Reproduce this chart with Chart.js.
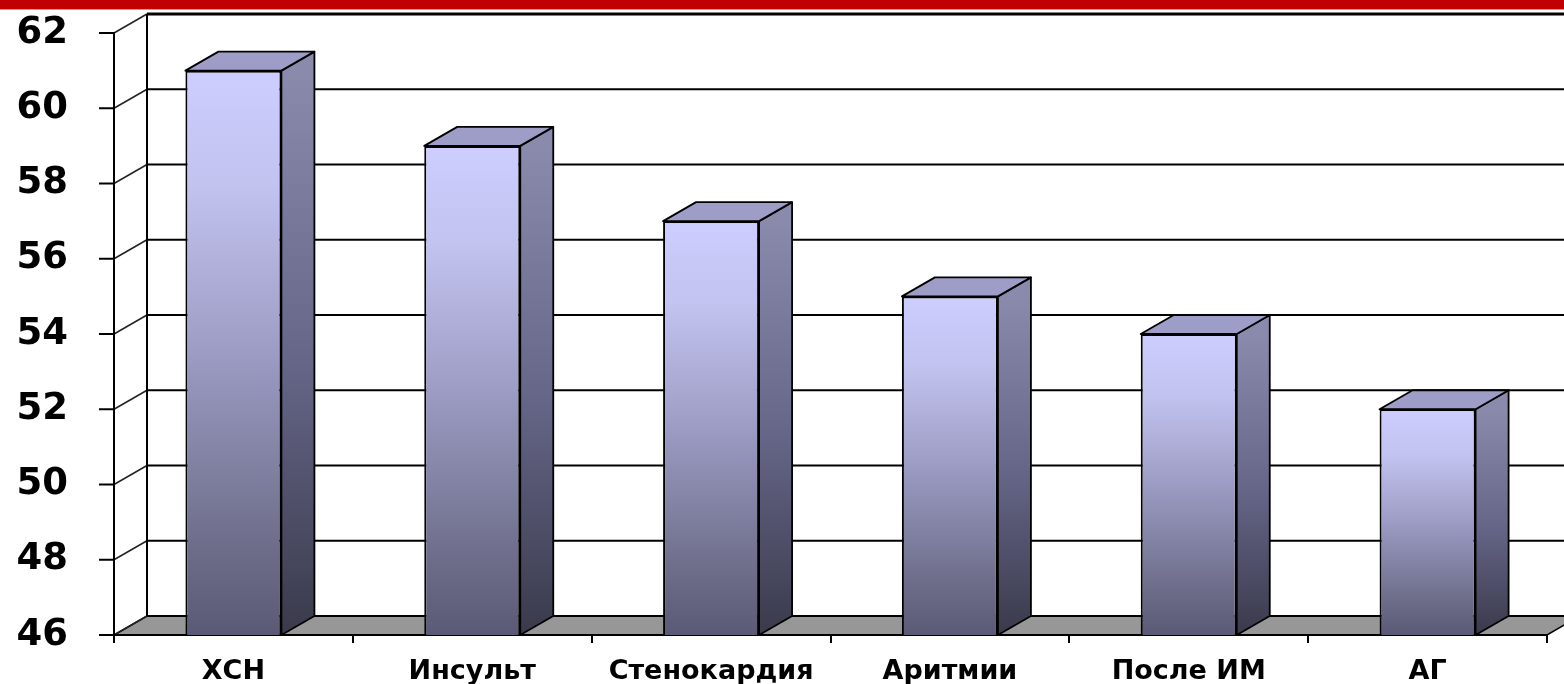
<!DOCTYPE html>
<html>
<head>
<meta charset="utf-8">
<script src="https://cdn.jsdelivr.net/npm/chart.js@4"></script>
<style>
  html, body { margin: 0; padding: 0; background: #fff; }
  #wrap { position: relative; width: 1564px; height: 684px; overflow: hidden; }
  #band { position: absolute; left: 0; top: 0; width: 1564px; height: 9px; background: #C00000; border-bottom: 1px solid #E89090; z-index: 2; }
  canvas { position: absolute; left: 0; top: 0; }
</style>
</head>
<body>
<div id="wrap">
  <div id="band"></div>
  <canvas id="c" width="1564" height="684"></canvas>
</div>
<script>
// ---- data ----
const categories = ['ХСН', 'Инсульт', 'Стенокардия', 'Аритмии', 'После ИМ', 'АГ'];
const values = [61, 59, 57, 55, 54, 52];
const yMin = 46;
const yMax = 62;
const yStep = 2;

// ---- styling ----
const DX = 33, DY = -19;
const Y_TICK_MARK = 15;

function frontGradient(ctx, yTop, yBot) {
  const g = ctx.createLinearGradient(0, yTop, 0, yBot);
  g.addColorStop(0, '#CDCDFF');
  g.addColorStop(0.2, '#C3C3F0');
  g.addColorStop(0.5, '#9C9CC4');
  g.addColorStop(0.8, '#737391');
  g.addColorStop(1, '#5A5A76');
  return g;
}
function sideGradient(ctx, yTop, yBot) {
  const g = ctx.createLinearGradient(0, yTop, 0, yBot);
  g.addColorStop(0, '#8A8AAC');
  g.addColorStop(0.5, '#67678A');
  g.addColorStop(1, '#3A3A4C');
  return g;
}

const threeD = {
  id: 'threeD',
  beforeDraw(chart) {
    const { ctx, chartArea, scales } = chart;
    const { left, right, bottom } = chartArea;
    const ys = scales.y;
    ctx.save();
    // floor
    ctx.beginPath();
    ctx.moveTo(left, bottom);
    ctx.lineTo(right, bottom);
    ctx.lineTo(right + DX, bottom + DY);
    ctx.lineTo(left + DX, bottom + DY);
    ctx.closePath();
    ctx.fillStyle = '#979797';
    ctx.fill();
    ctx.strokeStyle = '#000';
    ctx.lineWidth = 1.5;
    ctx.stroke();
    // back wall grid lines, diagonals, front tick marks
    ys.ticks.forEach((t) => {
      const py = ys.getPixelForValue(t.value);
      ctx.beginPath();
      ctx.moveTo(left + DX, py + DY);
      ctx.lineTo(right + DX + 40, py + DY);
      ctx.lineWidth = (t.value === yMax) ? 3 : 2.2;
      ctx.strokeStyle = '#000';
      ctx.stroke();
      ctx.beginPath();
      ctx.moveTo(left, py);
      ctx.lineTo(left + DX, py + DY);
      ctx.lineWidth = 1.5;
      ctx.strokeStyle = '#222';
      ctx.stroke();
      ctx.beginPath();
      ctx.moveTo(left - Y_TICK_MARK, py);
      ctx.lineTo(left, py);
      ctx.lineWidth = 2;
      ctx.strokeStyle = '#000';
      ctx.stroke();
    });
    // back wall left edge
    ctx.beginPath();
    ctx.moveTo(left + DX, ys.getPixelForValue(yMax) + DY);
    ctx.lineTo(left + DX, bottom + DY);
    ctx.lineWidth = 2;
    ctx.strokeStyle = '#000';
    ctx.stroke();
    ctx.restore();
  },
  afterDatasetsDraw(chart) {
    const { ctx, chartArea } = chart;
    const meta = chart.getDatasetMeta(0);
    ctx.save();
    ctx.lineJoin = 'round';
    meta.data.forEach(bar => {
      const p = bar.getProps(['x', 'y', 'width', 'base'], true);
      const x = p.x, y = p.y, width = p.width;
      const base = Math.min(p.base, chartArea.bottom);
      const l = x - width / 2, r = x + width / 2;
      // side face
      ctx.beginPath();
      ctx.moveTo(r, y);
      ctx.lineTo(r + DX, y + DY);
      ctx.lineTo(r + DX, base + DY);
      ctx.lineTo(r, base);
      ctx.closePath();
      ctx.fillStyle = sideGradient(ctx, y, base);
      ctx.fill();
      ctx.lineWidth = 1.8;
      ctx.strokeStyle = '#000';
      ctx.stroke();
      // top face
      ctx.beginPath();
      ctx.moveTo(l, y);
      ctx.lineTo(l + DX, y + DY);
      ctx.lineTo(r + DX, y + DY);
      ctx.lineTo(r, y);
      ctx.closePath();
      ctx.fillStyle = '#9D9DC8';
      ctx.fill();
      ctx.stroke();
    });
    ctx.restore();
  }
};

new Chart(document.getElementById('c'), {
  type: 'bar',
  data: {
    labels: categories,
    datasets: [{
      data: values,
      backgroundColor: (c) => {
        const chart = c.chart;
        const { ctx, chartArea, scales } = chart;
        if (!chartArea || !scales.y) return '#A0A0D0';
        const yTop = scales.y.getPixelForValue(c.raw);
        return frontGradient(ctx, yTop, chartArea.bottom);
      },
      borderColor: '#000',
      borderWidth: 2,
      borderSkipped: false,
      barPercentage: 0.402,
      categoryPercentage: 1.0
    }]
  },
  options: {
    responsive: false,
    animation: false,
    events: [],
    layout: { padding: { top: 33, right: 17, left: 0, bottom: 0 } },
    plugins: { legend: { display: false }, tooltip: { enabled: false } },
    scales: {
      x: {
        grid: { offset: true, drawOnChartArea: false, drawTicks: true, tickLength: 8, color: '#000', lineWidth: 2 },
        border: { display: true, color: '#000', width: 2 },
        ticks: {
          autoSkip: false, maxRotation: 0, color: '#000', padding: 13,
          font: { family: 'DejaVu Sans', weight: 'bold', size: 27 }
        },
        afterFit: (s) => { s.height = 49; }
      },
      y: {
        min: yMin, max: yMax,
        grid: { drawOnChartArea: false, drawTicks: true, tickLength: 46, tickColor: 'rgba(0,0,0,0)', color: '#000', lineWidth: 2 },
        border: { display: true, color: '#000', width: 2 },
        ticks: {
          stepSize: yStep, color: '#000', padding: 0,
          font: { family: 'DejaVu Sans', weight: 'bold', size: 37 }
        },
        afterFit: (s) => { s.width = 114; }
      }
    }
  },
  plugins: [threeD]
});
</script>
</body>
</html>
